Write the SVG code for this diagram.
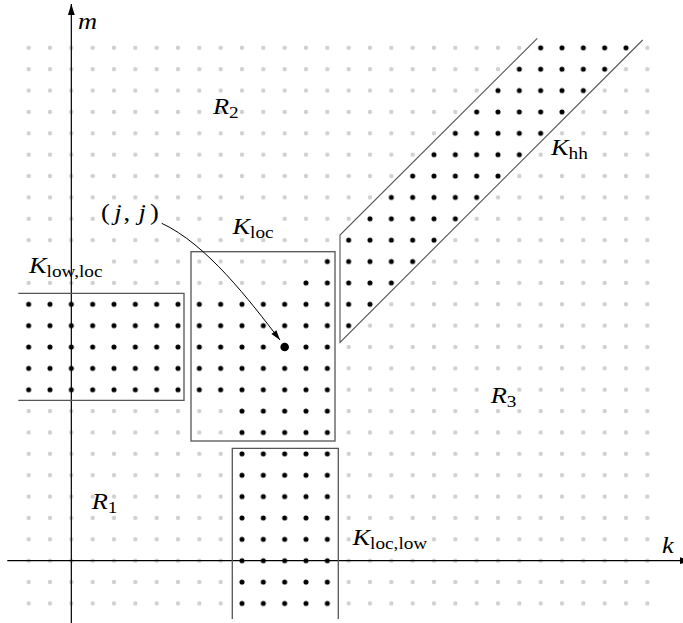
<svg xmlns="http://www.w3.org/2000/svg" width="683" height="623" viewBox="0 0 683 623">
<style>
text{font-family:'Liberation Serif','Times New Roman',Times,serif;font-size:24px;fill:#000}
.it{font-style:italic}
.sub{font-size:17.5px;font-style:normal}
.box{fill:none;stroke:#555;stroke-width:1.3}
.axis{fill:none;stroke:#000;stroke-width:1.2}
.bg{fill:#fff}
.blk{fill:url(#blk)}
.conn{fill:none;stroke:#000;stroke-width:1}
</style>
<defs>
<pattern id="gry" patternUnits="userSpaceOnUse" x="60.667" y="550.015" width="21.3333" height="21.37"><circle cx="10.6667" cy="10.685" r="2.2" fill="#d0d0d0"/></pattern>
<pattern id="blk" patternUnits="userSpaceOnUse" x="60.667" y="550.015" width="21.3333" height="21.37"><circle cx="10.6667" cy="10.685" r="2.5" fill="#000"/></pattern>
<marker id="axarr" markerUnits="userSpaceOnUse" markerWidth="12" markerHeight="8" refX="11" refY="4" orient="auto" overflow="visible"><path d="M0,0.6 L11,4 L0,7.4 z" fill="#000"/></marker>
<marker id="carr" markerUnits="userSpaceOnUse" markerWidth="11" markerHeight="7" refX="10" refY="3.5" orient="auto" overflow="visible"><path d="M0,0.4 L10,3.5 L0,6.6 z" fill="#000"/></marker>
</defs>
<rect width="683" height="623" fill="#fff"/>
<g id="grid"><rect x="18" y="37.135" width="640" height="577" fill="url(#gry)"/></g>
<g id="label-backgrounds">
<rect class="bg" x="25" y="250" width="86" height="29"/>
<rect class="bg" x="229" y="214" width="50" height="24"/>
<rect class="bg" x="549" y="137" width="42" height="24"/>
<rect class="bg" x="351" y="527" width="79" height="25"/>
<rect class="bg" x="100" y="201" width="66" height="27"/>
</g>
<g id="axes">
<line class="axis" x1="71.33" y1="623" x2="71.33" y2="4" marker-end="url(#axarr)"/>
<line class="axis" x1="7.3" y1="560.7" x2="691" y2="560.7" marker-end="url(#axarr)"/>
<text class="it" transform="translate(78 29.3) scale(1.1 1)">m</text>
<text class="it" transform="translate(662 553) scale(1.1 1)">k</text>
</g>
<g id="K_low_loc">
<rect class="blk" x="18" y="293.575" width="170.667" height="106.85"/>
<path class="box" d="M18.3,293.3 H184 V400.3 H18.3"/>
<text transform="translate(29 273.3) scale(1.1 1)"><tspan class="it">K</tspan><tspan class="sub" dy="4">low,loc</tspan></text>
</g>
<g id="K_loc">
<rect class="blk" x="188.667" y="293.575" width="149.333" height="106.85"/>
<rect class="blk" x="231.333" y="400.425" width="106.667" height="42.74"/>
<rect class="blk" x="295.333" y="272.205" width="42.667" height="21.37"/>
<rect class="blk" x="316.667" y="250.835" width="21.333" height="21.37"/>
<rect class="box" x="191" y="251.7" width="144" height="189.3"/>
<text transform="translate(232.5 234.3) scale(1.1 1)"><tspan class="it">K</tspan><tspan class="sub" dy="3.5">loc</tspan></text>
</g>
<g id="K_loc_low">
<rect class="blk" x="231.333" y="443.165" width="106.667" height="170.96"/>
<path class="box" d="M232.3,619 V448.3 H338.3 V619"/>
<text transform="translate(352.5 545) scale(1.1 1)"><tspan class="it">K</tspan><tspan class="sub" dy="3.5">loc,low</tspan></text>
</g>
<g id="K_hh">
<rect class="blk" x="338" y="314.945" width="21.333" height="21.37"/>
<rect class="blk" x="338" y="293.575" width="42.667" height="21.37"/>
<rect class="blk" x="338" y="272.205" width="64" height="21.37"/>
<rect class="blk" x="338" y="250.835" width="85.333" height="21.37"/>
<rect class="blk" x="338" y="229.465" width="106.667" height="21.37"/>
<rect class="blk" x="359.333" y="208.095" width="106.667" height="21.37"/>
<rect class="blk" x="380.667" y="186.725" width="106.667" height="21.37"/>
<rect class="blk" x="402" y="165.355" width="106.667" height="21.37"/>
<rect class="blk" x="423.333" y="143.985" width="106.667" height="21.37"/>
<rect class="blk" x="444.667" y="122.615" width="106.667" height="21.37"/>
<rect class="blk" x="466" y="101.245" width="106.667" height="21.37"/>
<rect class="blk" x="487.333" y="79.875" width="106.667" height="21.37"/>
<rect class="blk" x="508.667" y="58.505" width="106.667" height="21.37"/>
<rect class="blk" x="530" y="37.135" width="106.667" height="21.37"/>
<path class="box" d="M537.3,38.3 L340,235 V342.3 L642.7,40" style="stroke-width:1.1"/>
<text transform="translate(551 155) scale(1.1 1)"><tspan class="it">K</tspan><tspan class="sub" dy="3.5">hh</tspan></text>
</g>
<g id="R1"><text transform="translate(91.7 509.3) scale(1.1 1)"><tspan class="it">R</tspan><tspan class="sub" dy="4">1</tspan></text></g>
<g id="R2"><text transform="translate(213 114.3) scale(1.1 1)"><tspan class="it">R</tspan><tspan class="sub" dy="3.5">2</tspan></text></g>
<g id="R3"><text transform="translate(490.7 403.3) scale(1.1 1)"><tspan class="it">R</tspan><tspan class="sub" dy="3.5">3</tspan></text></g>
<g id="jj">
<circle cx="284.67" cy="347" r="4.3" fill="#000"/>
<text transform="translate(101 220) scale(1.1 1)"><tspan x="0">(</tspan><tspan class="it" x="12">j</tspan><tspan x="20.5">,</tspan><tspan class="it" x="34">j</tspan><tspan x="44.5">)</tspan></text>
</g>
<g id="connectors">
<path class="conn" d="M161.7,223.3 C207,244.3 249.5,300.5 280,340" marker-end="url(#carr)"/>
</g>
</svg>
